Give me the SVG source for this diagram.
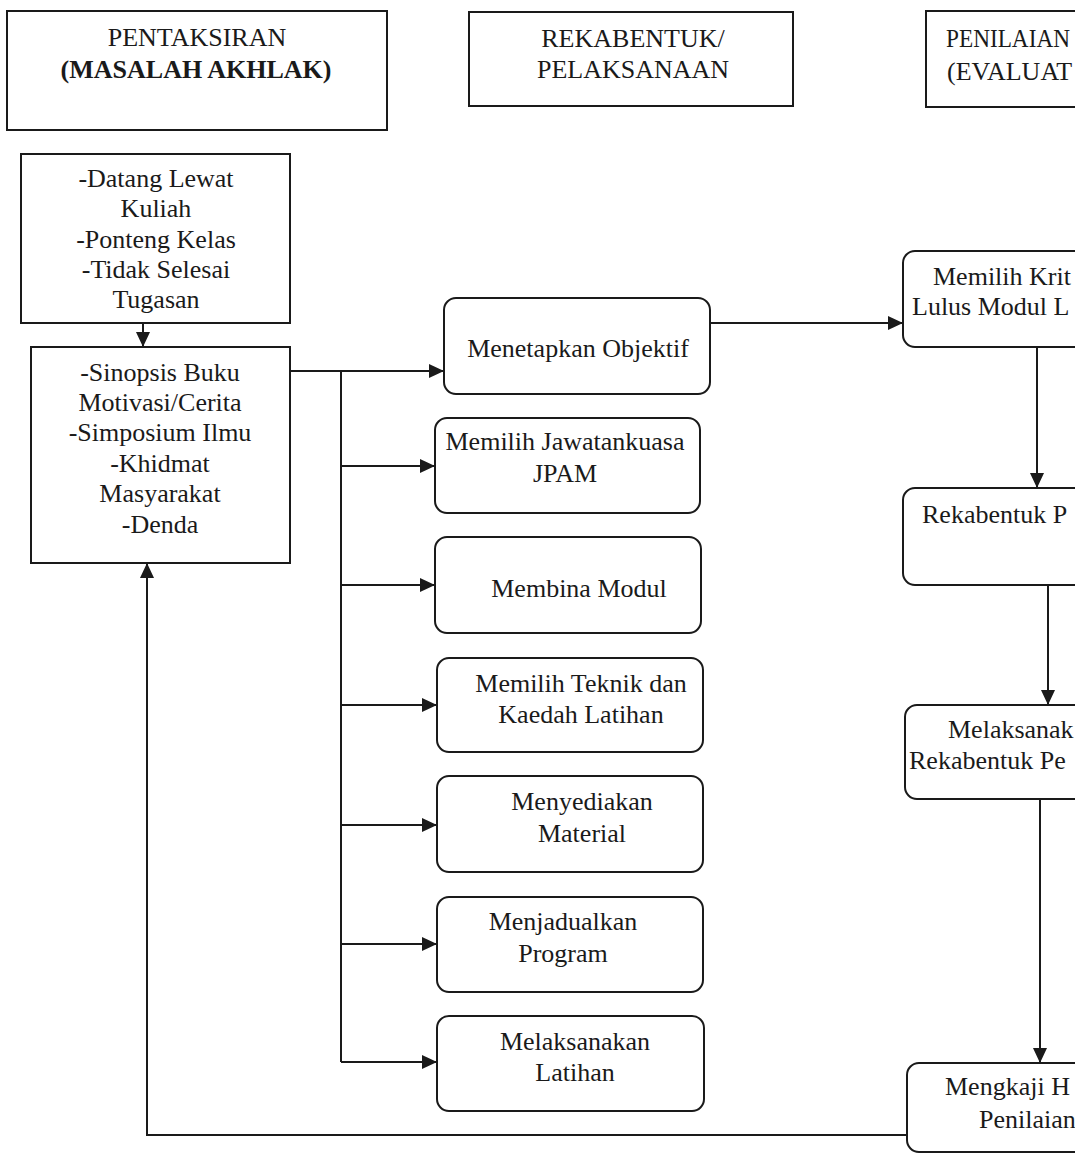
<svg xmlns="http://www.w3.org/2000/svg" width="1075" height="1156" viewBox="0 0 1075 1156">
<style>
.box{fill:#fff;stroke:#1a1a1a;stroke-width:2}
.t{font-family:"Liberation Serif","Times New Roman",serif;font-size:26px;fill:#1a1a1a}
.c{text-anchor:middle}
.b{font-weight:bold}
.ln{fill:none;stroke:#1a1a1a;stroke-width:2}
</style>
<defs>
<marker id="ah" markerUnits="userSpaceOnUse" markerWidth="16" markerHeight="14" refX="15" refY="7" orient="auto">
<path d="M0,0 L15,7 L0,14 Z" fill="#1a1a1a"/>
</marker>
</defs>
<rect width="1075" height="1156" fill="#fff"/>

<g id="connectors">
<line class="ln" x1="143" y1="323" x2="143" y2="347" marker-end="url(#ah)"/>
<line class="ln" x1="290" y1="371" x2="444" y2="371" marker-end="url(#ah)"/>
<line class="ln" x1="341" y1="371" x2="341" y2="1062"/>
<line class="ln" x1="341" y1="466" x2="435" y2="466" marker-end="url(#ah)"/>
<line class="ln" x1="341" y1="585" x2="435" y2="585" marker-end="url(#ah)"/>
<line class="ln" x1="341" y1="705" x2="437" y2="705" marker-end="url(#ah)"/>
<line class="ln" x1="341" y1="825" x2="437" y2="825" marker-end="url(#ah)"/>
<line class="ln" x1="341" y1="944" x2="437" y2="944" marker-end="url(#ah)"/>
<line class="ln" x1="341" y1="1062" x2="437" y2="1062" marker-end="url(#ah)"/>
<line class="ln" x1="710" y1="323" x2="903" y2="323" marker-end="url(#ah)"/>
<line class="ln" x1="1037" y1="347" x2="1037" y2="488" marker-end="url(#ah)"/>
<line class="ln" x1="1048" y1="585" x2="1048" y2="705" marker-end="url(#ah)"/>
<line class="ln" x1="1040" y1="799" x2="1040" y2="1063" marker-end="url(#ah)"/>
<polyline class="ln" points="907,1135 147,1135 147,563" marker-end="url(#ah)"/>
</g>

<g id="hdr1">
<rect class="box" x="7" y="11" width="380" height="119"/>
<text class="t c" x="197" y="46">PENTAKSIRAN</text>
<text class="t c b" x="196" y="78">(MASALAH AKHLAK)</text>
</g>
<g id="hdr2">
<rect class="box" x="469" y="12" width="324" height="94"/>
<text class="t c" x="633" y="47">REKABENTUK/</text>
<text class="t c" x="633" y="78">PELAKSANAAN</text>
</g>
<g id="hdr3">
<rect class="box" x="926" y="11" width="200" height="96"/>
<text class="t" x="946" y="47" textLength="124" lengthAdjust="spacingAndGlyphs">PENILAIAN</text>
<text class="t" x="947" y="80">(EVALUAT</text>
</g>

<g id="masalah">
<rect class="box" x="21" y="154" width="269" height="169"/>
<text class="t c" x="156" y="187">-Datang Lewat</text>
<text class="t c" x="156" y="217">Kuliah</text>
<text class="t c" x="156" y="248">-Ponteng Kelas</text>
<text class="t c" x="156" y="278">-Tidak Selesai</text>
<text class="t c" x="156" y="308">Tugasan</text>
</g>
<g id="tindakan">
<rect class="box" x="31" y="347" width="259" height="216"/>
<text class="t c" x="160" y="381">-Sinopsis Buku</text>
<text class="t c" x="160" y="411">Motivasi/Cerita</text>
<text class="t c" x="160" y="441">-Simposium Ilmu</text>
<text class="t c" x="160" y="472">-Khidmat</text>
<text class="t c" x="160" y="502">Masyarakat</text>
<text class="t c" x="160" y="533">-Denda</text>
</g>

<g id="objektif">
<rect class="box" x="444" y="298" width="266" height="96" rx="12"/>
<text class="t c" x="578" y="357">Menetapkan Objektif</text>
</g>
<g id="jawatankuasa">
<rect class="box" x="435" y="418" width="265" height="95" rx="12"/>
<text class="t c" x="565" y="450">Memilih Jawatankuasa</text>
<text class="t c" x="565" y="482">JPAM</text>
</g>
<g id="modul">
<rect class="box" x="435" y="537" width="266" height="96" rx="12"/>
<text class="t c" x="579" y="597">Membina Modul</text>
</g>
<g id="teknik">
<rect class="box" x="437" y="658" width="266" height="94" rx="12"/>
<text class="t c" x="581" y="692">Memilih Teknik dan</text>
<text class="t c" x="581" y="723">Kaedah Latihan</text>
</g>
<g id="material">
<rect class="box" x="437" y="776" width="266" height="96" rx="12"/>
<text class="t c" x="582" y="810">Menyediakan</text>
<text class="t c" x="582" y="842">Material</text>
</g>
<g id="jadual">
<rect class="box" x="437" y="897" width="266" height="95" rx="12"/>
<text class="t c" x="563" y="930">Menjadualkan</text>
<text class="t c" x="563" y="962">Program</text>
</g>
<g id="latihan">
<rect class="box" x="437" y="1016" width="267" height="95" rx="12"/>
<text class="t c" x="575" y="1050">Melaksanakan</text>
<text class="t c" x="575" y="1081">Latihan</text>
</g>

<g id="kriteria">
<rect class="box" x="903" y="251" width="200" height="96" rx="12"/>
<text class="t" x="933" y="285">Memilih Krit</text>
<text class="t" x="912" y="315">Lulus Modul L</text>
</g>
<g id="rekabentuk">
<rect class="box" x="903" y="488" width="200" height="97" rx="12"/>
<text class="t" x="922" y="523">Rekabentuk P</text>
</g>
<g id="laksana">
<rect class="box" x="905" y="705" width="200" height="94" rx="12"/>
<text class="t" x="948" y="738">Melaksanak</text>
<text class="t" x="909" y="769">Rekabentuk Pe</text>
</g>
<g id="kaji">
<rect class="box" x="907" y="1063" width="200" height="89" rx="12"/>
<text class="t" x="945" y="1095">Mengkaji H</text>
<text class="t" x="979" y="1128">Penilaian</text>
</g>
</svg>
